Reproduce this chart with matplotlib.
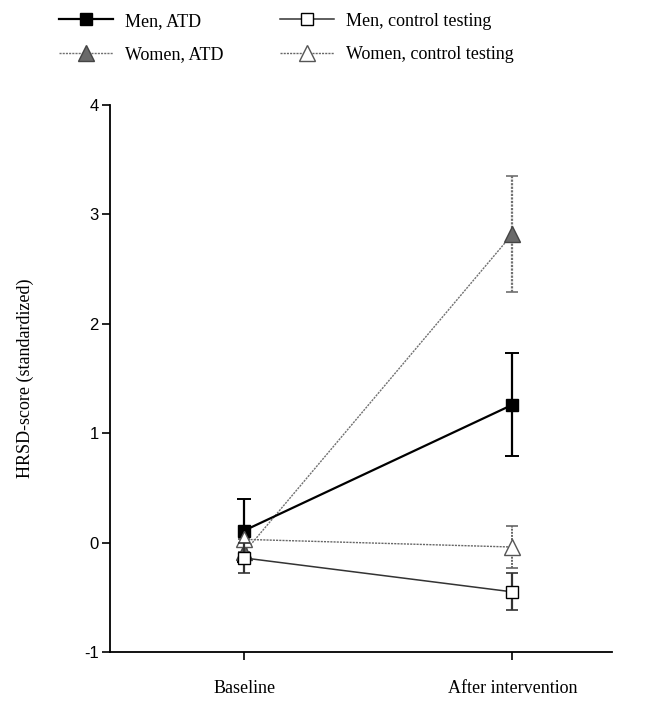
import numpy as np
import matplotlib.pyplot as plt

plt.rcParams['font.family'] = ['Liberation Serif', 'DejaVu Serif']

times = ["Baseline", "After intervention"]
x = [1, 2]

men_atd = [0.11, 1.26]
men_atd_err = [0.29, 0.47]
women_atd = [-0.09, 2.82]
women_atd_err = [0.0, 0.53]
men_ctrl = [-0.14, -0.45]
men_ctrl_err = [0.14, 0.17]
women_ctrl = [0.03, -0.04]
women_ctrl_err = [0.0, 0.19]

fig = plt.figure(figsize=(6.67, 7.03), dpi=100)
ax = fig.add_axes([0.165, 0.0725, 0.753, 0.778])

h1 = ax.errorbar(x, men_atd, yerr=men_atd_err, color="black", lw=1.6,
                 marker="s", ms=9, mfc="black", mec="black",
                 capsize=5, elinewidth=1.6, capthick=1.4, zorder=4)
h2 = ax.errorbar(x, women_atd, yerr=women_atd_err, color="#707070", lw=1.0,
                 ls=(0, (1.5, 0.8)), marker="^", ms=11, mfc="#6a6a6a", mec="#444444",
                 capsize=4, elinewidth=1.6, capthick=1.2, zorder=3)
h2[2][0].set_linestyle((0, (1, 0.6)))
h3 = ax.errorbar(x, men_ctrl, yerr=men_ctrl_err, color="#333333", lw=1.1,
                 marker="s", ms=9, mfc="white", mec="black",
                 capsize=4, elinewidth=1.6, capthick=1.2, zorder=5)
h4 = ax.errorbar(x, women_ctrl, yerr=women_ctrl_err, color="#666666", lw=1.0,
                 ls=(0, (1.5, 0.8)), marker="^", ms=11, mfc="white", mec="#555555",
                 capsize=4, elinewidth=1.4, capthick=1.2, zorder=4)
h4[2][0].set_linestyle((0, (1, 0.6)))

ax.set_xlim(0.5, 2.373)
ax.set_ylim(-1, 4)
ax.set_xticks(x)
ax.set_xticklabels(times, fontsize=13)
ax.set_yticks([-1, 0, 1, 2, 3, 4])
ax.set_yticklabels(["-1", "0", "1", "2", "3", "4"], family="Liberation Sans", fontsize=12)
ax.tick_params(axis="both", direction="out", length=6, width=1.2, pad=2)
ax.tick_params(axis="x", pad=14)
ax.set_ylabel("HRSD-score (standardized)", fontsize=13, labelpad=36)
for s in ["top", "right"]:
    ax.spines[s].set_visible(False)
ax.spines["left"].set_linewidth(1.3)
ax.spines["bottom"].set_linewidth(1.3)

fig.legend([h1[0], h2[0], h3[0], h4[0]],
           ["Men, ATD", "Women, ATD", "Men, control testing", "Women, control testing"],
           loc="upper left", bbox_to_anchor=(0.064, 1.005), ncol=2, frameon=False,
           fontsize=13, handlelength=3.0, columnspacing=3.15, labelspacing=0.9,
           handletextpad=0.65)

fig.savefig("out.png", dpi=100)
